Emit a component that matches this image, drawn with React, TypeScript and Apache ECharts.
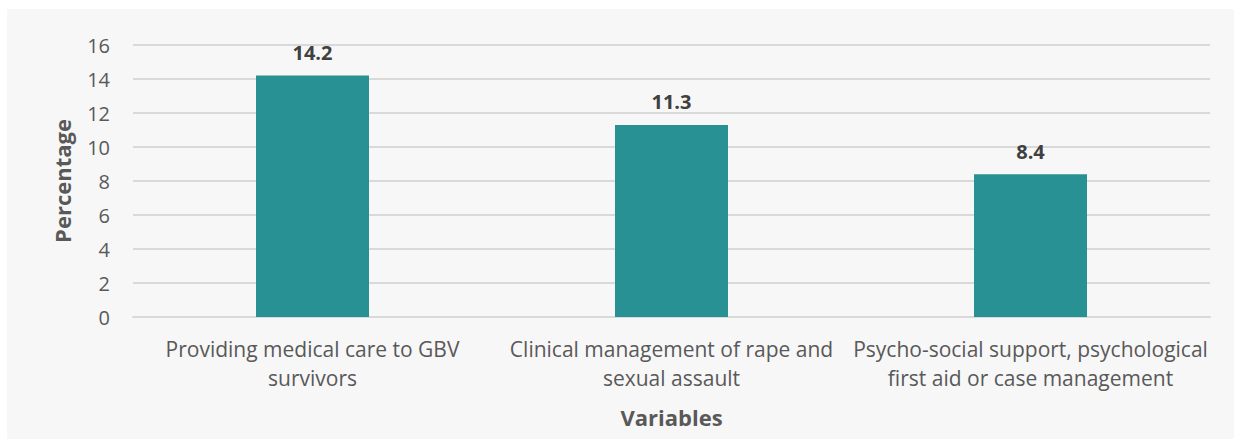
import React, { useEffect, useRef } from "react";
import * as echarts from "echarts";

const categories = [
  "Providing medical care to GBV\nsurvivors",
  "Clinical management of rape and\nsexual assault",
  "Psycho-social support, psychological\nfirst aid or case management",
];
const values = [14.2, 11.3, 8.4];
const yTicks = { min: 0, max: 16, interval: 2 };

export default function App() {
  const ref = useRef<HTMLDivElement>(null);
  useEffect(() => {
    if (!ref.current) return;
    const chart = echarts.init(ref.current, null, { renderer: "svg" });
    const font = "'Open Sans', sans-serif";
    chart.setOption({
      animation: false,
      backgroundColor: "#ffffff",
      textStyle: { fontFamily: font },
      graphic: [
        {
          type: "rect",
          z: -10,
          silent: true,
          shape: { x: 7, y: 9, width: 1227, height: 430 },
          style: { fill: "#f7f7f7" },
        },
      ],
      grid: { left: 133, right: 24, top: 45, bottom: 122 },
      xAxis: {
        type: "category",
        data: categories,
        name: "Variables",
        nameLocation: "middle",
        nameGap: 89,
        nameTextStyle: { fontFamily: font, fontSize: 22, fontWeight: "bold", color: "#595959" },
        axisLine: { show: true, lineStyle: { color: "#d9d9d9", width: 2 } },
        axisTick: { show: false },
        axisLabel: {
          fontFamily: font,
          fontSize: 21,
          color: "#595959",
          lineHeight: 29,
          margin: 17,
          interval: 0,
        },
      },
      yAxis: {
        type: "value",
        min: yTicks.min,
        max: yTicks.max,
        interval: yTicks.interval,
        name: "Percentage",
        nameLocation: "middle",
        nameGap: 60,
        nameTextStyle: { fontFamily: font, fontSize: 22, fontWeight: "bold", color: "#595959" },
        axisLine: { show: false },
        axisTick: { show: false },
        axisLabel: { fontFamily: font, fontSize: 20, color: "#595959", margin: 23 },
        splitLine: { lineStyle: { color: "#d9d9d9", width: 2 } },
      },
      series: [
        {
          type: "bar",
          data: values,
          barWidth: 113,
          itemStyle: { color: "#289194" },
          label: {
            show: true,
            position: "top",
            distance: 13,
            fontFamily: font,
            fontSize: 20,
            fontWeight: "bold",
            color: "#404040",
          },
        },
      ],
    });
    return () => chart.dispose();
  }, []);
  return (
    <div
      ref={ref}
      style={{ position: "fixed", left: 0, top: 0, width: 1234, height: 439 }}
    />
  );
}
